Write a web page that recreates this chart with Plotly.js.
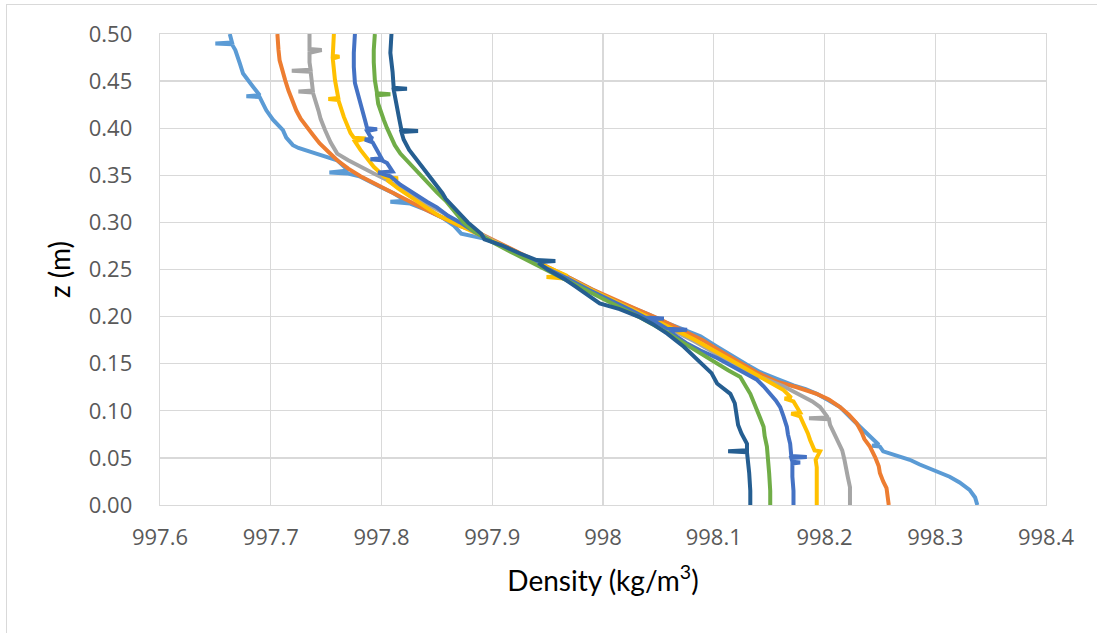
<!DOCTYPE html>
<html>
<head>
<meta charset="utf-8">
<script src="https://cdn.plot.ly/plotly-3.0.1.min.js"></script>
<style>
html,body{margin:0;padding:0;background:#fff;}
#wrap{position:relative;width:1097px;height:633px;overflow:hidden;}
#chart{position:absolute;left:0;top:0;width:1097px;height:633px;}
#frame{position:absolute;left:6px;top:4px;width:1200px;height:800px;border:1px solid #d9d9d9;pointer-events:none;}
</style>
</head>
<body>
<div id="wrap"><div id="chart"></div><div id="frame"></div></div>
<script>
// Series 1 (light blue)
const rho1 = [998.338,998.336,998.331,998.322,998.313,998.298,998.286,998.277,998.265,998.253,998.250,998.243,998.249,998.244,998.238,998.232,998.226,998.220,998.214,998.204,998.193,998.183,998.172,998.157,998.142,998.130,998.118,998.103,998.088,998.073,998.058,998.042,998.025,998.005,997.988,997.970,997.953,997.935,997.920,997.900,997.872,997.865,997.855,997.841,997.826,997.808,997.822,997.811,997.800,997.793,997.780,997.769,997.753,997.770,997.760,997.741,997.725,997.720,997.714,997.711,997.706,997.702,997.696,997.692,997.690,997.678,997.690,997.684,997.680,997.675,997.672,997.668,997.665,997.650,997.665,997.663];
const z1 = [0.000,0.008,0.016,0.024,0.030,0.037,0.043,0.048,0.053,0.057,0.062,0.063,0.064,0.070,0.076,0.083,0.090,0.097,0.104,0.111,0.118,0.123,0.127,0.134,0.141,0.149,0.157,0.168,0.179,0.186,0.193,0.202,0.210,0.220,0.230,0.241,0.250,0.260,0.270,0.281,0.288,0.297,0.305,0.313,0.320,0.322,0.323,0.331,0.337,0.341,0.349,0.352,0.353,0.355,0.366,0.373,0.379,0.382,0.390,0.398,0.404,0.409,0.419,0.428,0.433,0.434,0.435,0.444,0.450,0.458,0.469,0.483,0.489,0.490,0.491,0.500];

// Series 2 (orange)
const rho2 = [998.258,998.257,998.256,998.253,998.250,998.249,998.246,998.241,998.236,998.234,998.229,998.222,998.214,998.204,998.193,998.175,998.157,998.140,998.125,998.108,998.090,998.070,998.050,998.030,998.010,997.990,997.972,997.955,997.937,997.920,997.902,997.886,997.871,997.856,997.841,997.826,997.811,997.796,997.781,997.770,997.760,997.752,997.744,997.738,997.732,997.727,997.723,997.719,997.716,997.713,997.710,997.708,997.707,997.706];
const z2 = [0.000,0.010,0.018,0.025,0.034,0.041,0.050,0.062,0.070,0.076,0.087,0.096,0.104,0.112,0.118,0.125,0.131,0.140,0.150,0.162,0.175,0.187,0.198,0.208,0.218,0.229,0.240,0.250,0.260,0.270,0.280,0.290,0.296,0.304,0.313,0.322,0.331,0.340,0.349,0.357,0.366,0.375,0.384,0.393,0.402,0.410,0.419,0.430,0.440,0.451,0.462,0.472,0.483,0.500];

// Series 3 (gray)
const rho3 = [998.223,998.223,998.221,998.220,998.218,998.216,998.212,998.208,998.205,998.204,998.186,998.203,998.200,998.196,998.189,998.181,998.172,998.163,998.148,998.133,998.118,998.100,998.082,998.062,998.045,998.025,998.005,997.988,997.970,997.952,997.935,997.918,997.900,997.884,997.869,997.856,997.843,997.829,997.817,997.805,997.793,997.781,997.770,997.760,997.754,997.749,997.745,997.743,997.740,997.738,997.725,997.738,997.737,997.736,997.719,997.736,997.735,997.735,997.746,997.735,997.735];
const z3 = [0.000,0.019,0.030,0.037,0.048,0.058,0.067,0.076,0.085,0.091,0.092,0.093,0.098,0.104,0.110,0.115,0.121,0.126,0.133,0.140,0.150,0.162,0.174,0.186,0.197,0.208,0.219,0.229,0.240,0.250,0.260,0.270,0.281,0.291,0.300,0.310,0.318,0.327,0.336,0.345,0.352,0.359,0.366,0.373,0.385,0.398,0.410,0.419,0.430,0.438,0.439,0.440,0.450,0.460,0.461,0.462,0.470,0.480,0.483,0.484,0.500];

// Series 4 (yellow)
const rho4 = [998.193,998.193,998.193,998.193,998.192,998.196,998.191,998.189,998.187,998.185,998.181,998.178,998.170,998.178,998.175,998.172,998.164,998.170,998.163,998.152,998.142,998.130,998.118,998.100,998.082,998.063,998.045,998.025,998.006,997.988,997.970,997.949,997.968,997.950,997.932,997.915,997.897,997.880,997.865,997.852,997.839,997.826,997.815,997.805,997.815,997.803,997.793,997.781,997.776,997.786,997.775,997.772,997.766,997.761,997.752,997.761,997.758,997.756,997.762,997.756,997.757];
const z4 = [0.000,0.015,0.026,0.040,0.048,0.057,0.058,0.063,0.069,0.076,0.087,0.094,0.097,0.098,0.104,0.110,0.113,0.114,0.122,0.129,0.136,0.144,0.152,0.164,0.176,0.187,0.197,0.208,0.218,0.229,0.240,0.242,0.243,0.252,0.262,0.272,0.282,0.291,0.299,0.307,0.317,0.327,0.336,0.345,0.347,0.348,0.359,0.377,0.386,0.389,0.390,0.395,0.412,0.430,0.431,0.432,0.451,0.474,0.476,0.477,0.500];

// Series 5 (blue)
const rho5 = [998.172,998.172,998.171,998.171,998.178,998.171,998.170,998.184,998.170,998.169,998.167,998.166,998.163,998.160,998.156,998.151,998.145,998.139,998.128,998.118,998.103,998.088,998.075,998.065,998.060,998.076,998.058,998.048,998.040,998.055,998.038,998.025,998.005,997.988,997.970,997.952,997.934,997.917,997.899,997.884,997.871,997.860,997.850,997.841,997.829,997.817,997.808,997.797,997.810,997.805,997.800,997.790,997.800,997.796,997.792,997.785,997.792,997.790,997.787,997.796,997.787,997.785,997.781,997.778,997.776,997.775,997.775,997.776];
const z5 = [0.000,0.015,0.030,0.044,0.045,0.046,0.050,0.051,0.052,0.065,0.075,0.083,0.094,0.104,0.111,0.118,0.126,0.133,0.140,0.147,0.156,0.164,0.172,0.180,0.185,0.186,0.187,0.194,0.197,0.198,0.199,0.207,0.218,0.228,0.239,0.250,0.260,0.270,0.280,0.290,0.300,0.307,0.316,0.322,0.331,0.340,0.349,0.353,0.354,0.363,0.366,0.367,0.368,0.377,0.385,0.388,0.389,0.391,0.397,0.399,0.400,0.409,0.426,0.438,0.448,0.465,0.480,0.500];

// Series 6 (green)
const rho6 = [998.151,998.151,998.150,998.149,998.148,998.146,998.145,998.142,998.139,998.136,998.133,998.128,998.124,998.113,998.103,998.092,998.082,998.070,998.058,998.045,998.032,998.015,997.998,997.982,997.965,997.948,997.930,997.913,997.897,997.883,997.874,997.866,997.858,997.850,997.843,997.836,997.829,997.822,997.817,997.812,997.808,997.805,997.802,997.799,997.797,997.796,997.808,997.796,997.794,997.793,997.793,997.794];
const z6 = [0.000,0.015,0.034,0.050,0.062,0.073,0.083,0.092,0.101,0.110,0.118,0.128,0.136,0.143,0.150,0.158,0.165,0.174,0.183,0.192,0.200,0.210,0.220,0.230,0.240,0.250,0.261,0.271,0.281,0.291,0.300,0.312,0.323,0.332,0.341,0.350,0.359,0.367,0.373,0.382,0.391,0.400,0.409,0.418,0.426,0.435,0.436,0.437,0.451,0.470,0.483,0.500];

// Series 7 (dark blue)
const rho7 = [998.133,998.133,998.132,998.131,998.130,998.113,998.130,998.130,998.125,998.122,998.121,998.119,998.115,998.103,998.098,998.090,998.082,998.073,998.058,998.045,998.032,998.015,997.997,997.990,997.975,997.965,997.950,997.943,997.944,997.957,997.940,997.925,997.908,997.893,997.890,997.878,997.868,997.858,997.855,997.848,997.843,997.835,997.825,997.820,997.818,997.833,997.818,997.816,997.814,997.812,997.811,997.823,997.811,997.810,997.808,997.809];
const z7 = [0.000,0.015,0.034,0.050,0.056,0.057,0.058,0.065,0.076,0.085,0.095,0.108,0.118,0.129,0.140,0.149,0.157,0.168,0.182,0.192,0.200,0.208,0.214,0.220,0.232,0.240,0.250,0.256,0.258,0.259,0.260,0.267,0.276,0.282,0.288,0.300,0.313,0.325,0.331,0.342,0.350,0.362,0.377,0.388,0.396,0.397,0.398,0.410,0.423,0.438,0.441,0.442,0.443,0.460,0.480,0.500];

const seriesRho = [rho1, rho2, rho3, rho4, rho5, rho6, rho7];
const seriesZ = [z1, z2, z3, z4, z5, z6, z7];
const colors = ['#5B9BD5', '#ED7D31', '#A5A5A5', '#FFC000', '#4472C4', '#70AD47', '#255E91'];

const xTickVals = [997.6, 997.7, 997.8, 997.9, 998.0, 998.1, 998.2, 998.3, 998.4];
const xTickText = ['997.6', '997.7', '997.8', '997.9', '998', '998.1', '998.2', '998.3', '998.4'];
const yTickVals = [0, 0.05, 0.10, 0.15, 0.20, 0.25, 0.30, 0.35, 0.40, 0.45, 0.50];
const yTickText = ['0.00', '0.05', '0.10', '0.15', '0.20', '0.25', '0.30', '0.35', '0.40', '0.45', '0.50'];

const traces = seriesRho.map((r, i) => ({
  x: r, y: seriesZ[i], type: 'scatter', mode: 'lines',
  line: {color: colors[i], width: 4},
  hoverinfo: 'skip', showlegend: false
}));

const layout = {
  width: 1097, height: 633,
  margin: {l: 160, r: 51, t: 34, b: 128},
  paper_bgcolor: 'rgba(0,0,0,0)', plot_bgcolor: '#fff',
  font: {family: '"Open Sans", sans-serif', color: '#595959'},
  showlegend: false,
  xaxis: {
    range: [997.6, 998.4], tickmode: 'array', tickvals: xTickVals, ticktext: xTickText,
    showgrid: true, gridcolor: '#d9d9d9', gridwidth: 1.3,
    showline: true, linecolor: '#d9d9d9', linewidth: 1.3, mirror: true,
    zeroline: false, ticks: 'outside', ticklen: 12, tickcolor: 'rgba(0,0,0,0)',
    tickfont: {size: 22, color: '#595959', family: '"Open Sans", sans-serif'},
    title: {text: 'Density (kg/m<sup>3</sup>)', font: {size: 28, color: '#000', family: 'Lato, sans-serif'}, standoff: 21}
  },
  yaxis: {
    range: [0, 0.5], tickmode: 'array', tickvals: yTickVals, ticktext: yTickText,
    showgrid: true, gridcolor: '#d9d9d9', gridwidth: 1.3,
    showline: true, linecolor: '#d9d9d9', linewidth: 1.3, mirror: true,
    zeroline: false, ticks: 'outside', ticklen: 22, tickcolor: 'rgba(0,0,0,0)',
    tickfont: {size: 22, color: '#595959', family: '"Open Sans", sans-serif'},
    title: {text: 'z (m)', font: {size: 28, color: '#000', family: 'Lato, sans-serif'}, standoff: 10}
  }
};

Plotly.newPlot('chart', traces, layout, {displayModeBar: false, staticPlot: true});
</script>
</body>
</html>
